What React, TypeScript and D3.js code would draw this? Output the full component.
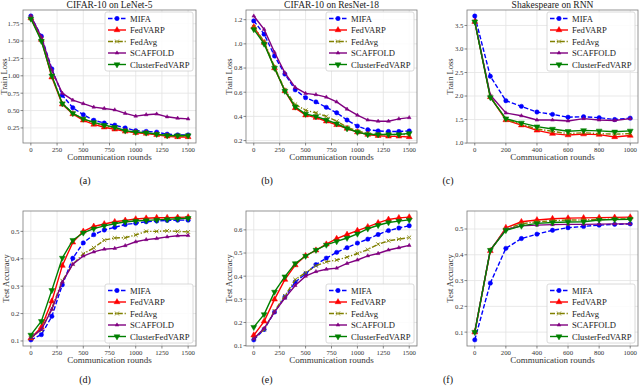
import { useEffect, useRef } from 'react';
import * as d3 from 'd3';

// communication rounds (x values)
const roundsLong = [0, 100, 200, 300, 400, 500, 600, 700, 800, 900, 1000, 1100, 1200, 1300, 1400, 1500];
const roundsShort = [0, 100, 200, 300, 400, 500, 600, 700, 800, 900, 1000];

const methods = ['MIFA', 'FedVARP', 'FedAvg', 'SCAFFOLD', 'ClusterFedVARP'];

// series are in the same order as `methods`
const lenetLoss = [
  [1.86, 1.57, 1.10, 0.72, 0.54, 0.44, 0.36, 0.32, 0.29, 0.25, 0.21, 0.20, 0.19, 0.16, 0.15, 0.15],
  [1.83, 1.52, 0.98, 0.59, 0.45, 0.36, 0.30, 0.26, 0.23, 0.20, 0.18, 0.17, 0.15, 0.13, 0.12, 0.12],
  [1.84, 1.53, 1.00, 0.60, 0.46, 0.38, 0.32, 0.28, 0.25, 0.21, 0.19, 0.18, 0.16, 0.14, 0.13, 0.13],
  [1.86, 1.56, 1.08, 0.75, 0.65, 0.60, 0.55, 0.53, 0.51, 0.46, 0.42, 0.44, 0.45, 0.41, 0.39, 0.38],
  [1.82, 1.50, 1.00, 0.60, 0.46, 0.38, 0.33, 0.29, 0.26, 0.21, 0.19, 0.18, 0.16, 0.14, 0.14, 0.14],
];

const resnetLoss = [
  [1.19, 1.08, 0.90, 0.75, 0.62, 0.555, 0.52, 0.475, 0.43, 0.37, 0.32, 0.29, 0.28, 0.275, 0.275, 0.28],
  [1.14, 1.01, 0.80, 0.61, 0.47, 0.41, 0.39, 0.36, 0.33, 0.30, 0.27, 0.25, 0.24, 0.235, 0.235, 0.23],
  [1.14, 1.02, 0.81, 0.62, 0.50, 0.45, 0.43, 0.40, 0.36, 0.31, 0.28, 0.26, 0.25, 0.25, 0.25, 0.25],
  [1.23, 1.12, 0.93, 0.76, 0.64, 0.59, 0.58, 0.56, 0.52, 0.46, 0.41, 0.37, 0.36, 0.36, 0.38, 0.39],
  [1.12, 1.00, 0.80, 0.61, 0.48, 0.42, 0.40, 0.37, 0.34, 0.30, 0.27, 0.25, 0.25, 0.25, 0.25, 0.26],
];

const rnnLoss = [
  [3.70, 2.42, 1.90, 1.78, 1.66, 1.61, 1.55, 1.56, 1.54, 1.50, 1.53],
  [3.58, 1.98, 1.49, 1.38, 1.27, 1.20, 1.17, 1.19, 1.18, 1.13, 1.16],
  [3.58, 1.99, 1.50, 1.40, 1.30, 1.25, 1.20, 1.22, 1.20, 1.19, 1.20],
  [3.58, 2.02, 1.64, 1.58, 1.49, 1.49, 1.47, 1.52, 1.49, 1.48, 1.52],
  [3.58, 1.97, 1.52, 1.43, 1.35, 1.30, 1.25, 1.27, 1.26, 1.24, 1.26],
];

const lenetAcc = [
  [0.104, 0.123, 0.19, 0.305, 0.402, 0.458, 0.488, 0.505, 0.515, 0.525, 0.53, 0.535, 0.538, 0.54, 0.541, 0.541],
  [0.11, 0.15, 0.245, 0.375, 0.46, 0.50, 0.518, 0.527, 0.535, 0.54, 0.545, 0.548, 0.55, 0.55, 0.551, 0.552],
  [0.11, 0.14, 0.22, 0.32, 0.38, 0.418, 0.44, 0.468, 0.476, 0.477, 0.487, 0.50, 0.50, 0.502, 0.50, 0.498],
  [0.112, 0.142, 0.215, 0.315, 0.38, 0.41, 0.425, 0.435, 0.438, 0.448, 0.462, 0.47, 0.474, 0.48, 0.484, 0.485],
  [0.122, 0.172, 0.285, 0.403, 0.468, 0.495, 0.51, 0.52, 0.528, 0.535, 0.538, 0.54, 0.542, 0.544, 0.546, 0.548],
];

const resnetAcc = [
  [0.125, 0.17, 0.245, 0.31, 0.375, 0.41, 0.45, 0.478, 0.503, 0.523, 0.543, 0.56, 0.58, 0.597, 0.608, 0.618],
  [0.145, 0.205, 0.30, 0.385, 0.448, 0.488, 0.512, 0.538, 0.562, 0.58, 0.597, 0.613, 0.63, 0.645, 0.652, 0.655],
  [0.13, 0.17, 0.25, 0.315, 0.385, 0.415, 0.445, 0.462, 0.47, 0.482, 0.498, 0.515, 0.538, 0.553, 0.56, 0.567],
  [0.13, 0.175, 0.245, 0.305, 0.36, 0.40, 0.42, 0.43, 0.435, 0.455, 0.47, 0.488, 0.498, 0.513, 0.523, 0.533],
  [0.18, 0.235, 0.332, 0.398, 0.455, 0.487, 0.513, 0.535, 0.55, 0.565, 0.583, 0.605, 0.62, 0.632, 0.638, 0.643],
];

const rnnAcc = [
  [0.07, 0.29, 0.425, 0.463, 0.48, 0.495, 0.505, 0.51, 0.515, 0.518, 0.52],
  [0.10, 0.415, 0.505, 0.528, 0.535, 0.54, 0.542, 0.543, 0.544, 0.545, 0.546],
  [0.10, 0.418, 0.50, 0.52, 0.528, 0.532, 0.535, 0.535, 0.537, 0.538, 0.54],
  [0.10, 0.418, 0.498, 0.512, 0.515, 0.517, 0.518, 0.518, 0.519, 0.52, 0.52],
  [0.10, 0.418, 0.495, 0.512, 0.522, 0.525, 0.527, 0.528, 0.535, 0.537, 0.538],
];

const titles = ['CIFAR-10 on LeNet-5', 'CIFAR-10 on ResNet-18', 'Shakespeare on RNN'];
const captions = ['(a)', '(b)', '(c)', '(d)', '(e)', '(f)'];

const xTicksLong = [0, 250, 500, 750, 1000, 1250, 1500];
const xTicksShort = [0, 200, 400, 600, 800, 1000];
const lossTicks = [
  [0.25, 0.5, 0.75, 1.0, 1.25, 1.5, 1.75],
  [0.2, 0.4, 0.6, 0.8, 1.0, 1.2],
  [1.0, 1.5, 2.0, 2.5, 3.0, 3.5],
];
const accTicks = [
  [0.1, 0.2, 0.3, 0.4, 0.5],
  [0.1, 0.2, 0.3, 0.4, 0.5, 0.6],
  [0.1, 0.2, 0.3, 0.4, 0.5],
];

const styles = [
  { color: '#0000ff', dash: '4.5,2', marker: 'circle' },
  { color: '#ff0000', dash: null, marker: 'up' },
  { color: '#808000', dash: '5,1.8,1.2,1.8', marker: 'x' },
  { color: '#800080', dash: null, marker: 'smallup' },
  { color: '#008000', dash: null, marker: 'down' },
];

const FONT = '"Liberation Serif", "DejaVu Serif", serif';

const cols = [
  { left: 23, right: 196, caption: 85 },
  { left: 246, right: 417, caption: 267 },
  { left: 467, right: 638, caption: 448 },
];
const rows = [
  { top: 10, bottom: 143, caption: 184 },
  { top: 211, bottom: 346, caption: 383 },
];

function markerPath(kind: string) {
  if (kind === 'circle') return d3.symbol(d3.symbolCircle, 15)();
  if (kind === 'up') return d3.symbol(d3.symbolTriangle, 15)();
  if (kind === 'down') return d3.symbol(d3.symbolTriangle, 15)();
  if (kind === 'smallup') return d3.symbol(d3.symbolTriangle, 6)();
  return 'M-1.9,-1.9L1.9,1.9M-1.9,1.9L1.9,-1.9';
}

function drawMarker(g: any, kind: string, color: string, x: number, y: number) {
  const p = g.append('path')
    .attr('d', markerPath(kind))
    .attr('transform', `translate(${x},${y})${kind === 'down' ? ' rotate(180)' : ''}`);
  if (kind === 'x') {
    p.attr('fill', 'none').attr('stroke', color).attr('stroke-width', 0.9);
  } else {
    p.attr('fill', color).attr('stroke', color).attr('stroke-width', 0.5);
  }
}

export default function App() {
  const svgRef = useRef<SVGSVGElement>(null);

  useEffect(() => {
    const svg = d3.select(svgRef.current);
    svg.selectAll('*').remove();

    const panels = [
      { rounds: roundsLong, data: lenetLoss, yTicks: lossTicks[0], xTicks: xTicksLong, fmt: '.2f', label: 'Train Loss', title: titles[0], legendTop: true },
      { rounds: roundsLong, data: resnetLoss, yTicks: lossTicks[1], xTicks: xTicksLong, fmt: '.1f', label: 'Train Loss', title: titles[1], legendTop: true },
      { rounds: roundsShort, data: rnnLoss, yTicks: lossTicks[2], xTicks: xTicksShort, fmt: '.1f', label: 'Train Loss', title: titles[2], legendTop: true },
      { rounds: roundsLong, data: lenetAcc, yTicks: accTicks[0], xTicks: xTicksLong, fmt: '.1f', label: 'Test Accuracy', title: null, legendTop: false },
      { rounds: roundsLong, data: resnetAcc, yTicks: accTicks[1], xTicks: xTicksLong, fmt: '.1f', label: 'Test Accuracy', title: null, legendTop: false },
      { rounds: roundsShort, data: rnnAcc, yTicks: accTicks[2], xTicks: xTicksShort, fmt: '.1f', label: 'Test Accuracy', title: null, legendTop: false },
    ];

    panels.forEach((p, i) => {
      const col = cols[i % 3];
      const row = rows[Math.floor(i / 3)];
      const w = col.right - col.left;
      const h = row.bottom - row.top;
      const g = svg.append('g').attr('transform', `translate(${col.left},${row.top})`);

      // matplotlib-style 5% margins
      const xMax = d3.max(p.rounds) as number;
      const all = p.data.flat();
      const [yMin, yMax] = d3.extent(all) as [number, number];
      const pad = (yMax - yMin) * 0.05;

      const x = d3.scaleLinear().domain([-0.05 * xMax, 1.05 * xMax]).range([0, w]);
      const y = d3.scaleLinear().domain([yMin - pad, yMax + pad]).range([h, 0]);

      // Grid
      g.selectAll('.gx').data(p.xTicks).join('line')
        .attr('x1', d => x(d)).attr('x2', d => x(d)).attr('y1', 0).attr('y2', h)
        .attr('stroke', '#e3e3e3').attr('stroke-width', 0.8);
      g.selectAll('.gy').data(p.yTicks).join('line')
        .attr('x1', 0).attr('x2', w).attr('y1', d => y(d)).attr('y2', d => y(d))
        .attr('stroke', '#e3e3e3').attr('stroke-width', 0.8);

      // Series
      p.data.forEach((vals, k) => {
        const st = styles[k];
        const pts = vals.map((v, j) => [p.rounds[j], v] as [number, number]);
        const line = d3.line().x(d => x(d[0])).y(d => y(d[1]));
        g.append('path')
          .attr('d', line(pts))
          .attr('fill', 'none')
          .attr('stroke', st.color)
          .attr('stroke-width', 1.4)
          .attr('stroke-dasharray', st.dash);
        pts.forEach(d => drawMarker(g, st.marker, st.color, x(d[0]), y(d[1])));
      });

      // Frame
      g.append('rect').attr('width', w).attr('height', h)
        .attr('fill', 'none').attr('stroke', '#7a7a7a').attr('stroke-width', 0.8);

      // X axis ticks
      const xa = g.append('g');
      p.xTicks.forEach(t => {
        xa.append('line').attr('x1', x(t)).attr('x2', x(t)).attr('y1', h).attr('y2', h + 2.5)
          .attr('stroke', '#555').attr('stroke-width', 0.7);
        xa.append('text').attr('x', x(t)).attr('y', h + 8.5)
          .attr('text-anchor', 'middle').attr('font-family', FONT).attr('font-size', 6.8)
          .attr('fill', '#333').text(t);
      });
      g.append('text').attr('x', w / 2).attr('y', h + 16.5)
        .attr('text-anchor', 'middle').attr('font-family', FONT).attr('font-size', 9)
        .attr('fill', '#333').text('Communication rounds');

      // Y axis ticks
      const fmt = d3.format(p.fmt);
      p.yTicks.forEach(t => {
        g.append('line').attr('x1', -2.5).attr('x2', 0).attr('y1', y(t)).attr('y2', y(t))
          .attr('stroke', '#555').attr('stroke-width', 0.7);
        g.append('text').attr('x', -3.5).attr('y', y(t) + 2.4)
          .attr('text-anchor', 'end').attr('font-family', FONT).attr('font-size', 6.8)
          .attr('fill', '#333').text(fmt(t));
      });
      const labelX = p.fmt === '.2f' ? -16 : -14;
      g.append('text')
        .attr('transform', `translate(${labelX},${h / 2}) rotate(-90)`)
        .attr('text-anchor', 'middle').attr('font-family', FONT).attr('font-size', 8.5)
        .attr('fill', '#333').text(p.label);

      if (p.title) {
        g.append('text').attr('x', w / 2).attr('y', -2)
          .attr('text-anchor', 'middle').attr('font-family', FONT).attr('font-size', 9.5)
          .attr('fill', '#222').text(p.title);
      }

      // Legend
      const lw = 88, lh = 59;
      const lx = w - lw - 3;
      const ly = p.legendTop ? 2 : h - lh - 3;
      const lg = g.append('g').attr('transform', `translate(${lx},${ly})`);
      lg.append('rect').attr('width', lw).attr('height', lh).attr('rx', 2)
        .attr('fill', 'white').attr('fill-opacity', 0.85)
        .attr('stroke', '#d0d0d0').attr('stroke-width', 0.8);
      methods.forEach((m, k) => {
        const st = styles[k];
        const yy = 6.5 + k * 11.5;
        lg.append('line').attr('x1', 3).attr('x2', 21).attr('y1', yy).attr('y2', yy)
          .attr('stroke', st.color).attr('stroke-width', 1.4)
          .attr('stroke-dasharray', st.dash);
        drawMarker(lg, st.marker, st.color, 12, yy);
        lg.append('text').attr('x', 25).attr('y', yy + 3)
          .attr('font-family', FONT).attr('font-size', 8.6).attr('fill', '#222').text(m);
      });
    });

    // Sub-figure captions
    captions.forEach((c, i) => {
      svg.append('text')
        .attr('x', cols[i % 3].caption)
        .attr('y', rows[Math.floor(i / 3)].caption)
        .attr('text-anchor', 'middle')
        .attr('font-family', FONT).attr('font-size', 10).attr('fill', '#111').text(c);
    });
  }, []);

  return (
    <svg ref={svgRef} width={640} height={390}
      style={{ position: 'absolute', left: 0, top: 0, background: 'white' }} />
  );
}
